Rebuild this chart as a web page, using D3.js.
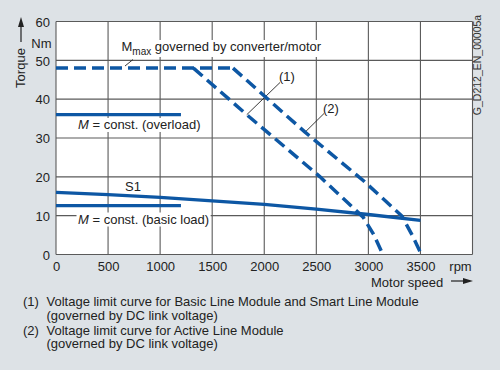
<!DOCTYPE html>
<html><head><meta charset="utf-8">
<script src="https://cdn.jsdelivr.net/npm/d3@7"></script>
<style>
html,body{margin:0;padding:0;background:#dde2e6;}
svg{display:block;font-family:"Liberation Sans",Arial,sans-serif;}
</style></head>
<body>
<svg id="c" width="500" height="370"></svg>
<script>
// ---- data ----
const xTicks = [0, 500, 1000, 1500, 2000, 2500, 3000, 3500];
const xGrid = [0, 500, 1000, 1500, 2000, 2500, 3000, 3500, 4000];
const yTicks = [0, 10, 20, 30, 40, 50, 60];

const mmaxSpeed = [0, 1700];
const mmaxTorque = [48, 48];

const curve1Speed = [1320, 1832, 2536, 2950, 3050, 3140];
const curve1Torque = [48, 36, 20.0, 9.6, 5.2, 0];

const curve2Speed = [1700, 2392, 2953, 3322, 3420, 3510];
const curve2Torque = [48, 31.5, 19.0, 9.9, 5.0, 0];

const s1Speed = [0, 500, 1000, 1500, 2000, 2500, 3000, 3500];
const s1Torque = [16.0, 15.4, 14.7, 13.8, 12.9, 11.7, 10.3, 8.8];

const overloadSpeed = [0, 1200];
const overloadTorque = [36, 36];

const basicSpeed = [0, 1200];
const basicTorque = [12.6, 12.6];

const footnotes = [
  ["(1)", "Voltage limit curve for Basic Line Module and Smart Line Module"],
  ["", "(governed by DC link voltage)"],
  ["(2)", "Voltage limit curve for Active Line Module"],
  ["", "(governed by DC link voltage)"]
];

// ---- drawing ----
const svg = d3.select("#c");
const blue = "#0d57a4";
const gridCol = "#5a5a5a";
const x = d3.scaleLinear().domain([0, 4000]).range([56, 472.5]);
const y = d3.scaleLinear().domain([0, 60]).range([254.5, 21.5]);

svg.append("rect").attr("x", x(0)).attr("y", y(60))
  .attr("width", x(4000) - x(0)).attr("height", y(0) - y(60)).attr("fill", "#fff");

const grid = svg.append("g");
grid.selectAll("line.v").data(xGrid).join("line")
  .attr("x1", d => x(d)).attr("x2", d => x(d))
  .attr("y1", y(0)).attr("y2", y(60))
  .attr("stroke", gridCol).attr("stroke-width", 1.1);
grid.selectAll("line.h").data(yTicks).join("line")
  .attr("x1", x(0)).attr("x2", x(4000))
  .attr("y1", d => y(d)).attr("y2", d => y(d))
  .attr("stroke", gridCol).attr("stroke-width", 1.1);

// axes tick labels via d3 axes
const xAxis = d3.axisBottom(x).tickValues(xTicks).tickFormat(d3.format("d")).tickSize(0).tickPadding(0);
const gx = svg.append("g").attr("transform", `translate(0,${y(0)})`).call(xAxis);
gx.select(".domain").remove();
gx.selectAll("text").attr("dy", null).attr("y", 16.5)
  .attr("font-size", 13).attr("font-family", "Liberation Sans, Arial, sans-serif").attr("fill", "#222");

const yAxis = d3.axisLeft(y).tickValues(yTicks).tickFormat(d3.format("d")).tickSize(0).tickPadding(0);
const gy = svg.append("g").attr("transform", `translate(${x(0) - 6},0)`).call(yAxis);
gy.select(".domain").remove();
gy.selectAll("text").attr("x", 0).attr("dy", "0.36em")
  .attr("font-size", 13).attr("font-family", "Liberation Sans, Arial, sans-serif").attr("fill", "#222");

const txt = (xx, yy, s, opts = {}) => svg.append("text").attr("x", xx).attr("y", yy)
  .attr("font-size", opts.size || 13).attr("fill", "#222")
  .attr("text-anchor", opts.anchor || "start").text(s);

txt(51.5, 48, "Nm", {anchor: "end"});
txt(x(4000) - 12, 271, "rpm", {anchor: "middle"});
txt(371, 287, "Motor speed");
// motor speed arrow
const arrow = (x1, y1, x2, y2) => {
  svg.append("line").attr("x1", x1).attr("y1", y1).attr("x2", x2).attr("y2", y2)
    .attr("stroke", "#222").attr("stroke-width", 1.2);
};
arrow(451, 281, 466, 281);
svg.append("path").attr("d", "M473,281 L463,278 L463,284 Z").attr("fill", "#222");
// torque
svg.append("text").attr("transform", "translate(24.5,68) rotate(-90)")
  .attr("text-anchor", "middle").attr("font-size", 13).attr("fill", "#222").text("Torque");
arrow(21, 42, 21, 25);
svg.append("path").attr("d", "M21,17 L18,27 L24,27 Z").attr("fill", "#222");

// code id right
svg.append("text").attr("transform", "translate(481,65) rotate(-90)")
  .attr("text-anchor", "middle").attr("font-size", 10.5).attr("fill", "#333").text("G_D212_EN_00005a");

// labels with white boxes
const boxLabel = (xx, yy, build) => {
  const g = svg.append("g");
  const bg = g.append("rect").attr("fill", "#fff");
  const t = g.append("text").attr("x", xx).attr("y", yy).attr("font-size", 13).attr("fill", "#222");
  build(t);
  const b = t.node().getBBox();
  bg.attr("x", b.x - 1.5).attr("y", b.y + 1).attr("width", b.width + 3).attr("height", b.height - 1);
  return g;
};
boxLabel(121.5, 51, t => {
  t.append("tspan").text("M");
  t.append("tspan").attr("font-size", 10).attr("dy", 4).text("max");
  t.append("tspan").attr("dy", -4).text(" governed by converter/motor");
});
boxLabel(78, 129, t => {
  t.append("tspan").attr("font-style", "italic").text("M");
  t.append("tspan").text(" = const. (overload)");
});
boxLabel(125, 191, t => { t.append("tspan").text("S1"); });
boxLabel(78, 223.5, t => {
  t.append("tspan").attr("font-style", "italic").text("M");
  t.append("tspan").text(" = const. (basic load)");
});
boxLabel(279, 81, t => { t.append("tspan").text("(1)"); });
boxLabel(323, 113, t => { t.append("tspan").text("(2)"); });

// leader lines
const leader = (x1, y1, x2, y2) => svg.append("line")
  .attr("x1", x1).attr("y1", y1).attr("x2", x2).attr("y2", y2)
  .attr("stroke", "#222").attr("stroke-width", 0.9);
leader(125, 66, 133, 59.5);
leader(280, 82.5, x(1832), y(36));
leader(324, 113.5, x(2392), y(31.5));

// curves
const line = d3.line().x(d => x(d[0])).y(d => y(d[1]));
const zip = (a, b) => a.map((v, i) => [v, b[i]]);
const solid = (sp, tq) => svg.append("path").attr("d", line(zip(sp, tq)))
  .attr("fill", "none").attr("stroke", blue).attr("stroke-width", 3.3);
const dashed = (sp, tq) => svg.append("path").attr("d", line(zip(sp, tq)))
  .attr("fill", "none").attr("stroke", blue).attr("stroke-width", 3.5)
  .attr("stroke-dasharray", "12,6");

solid(overloadSpeed, overloadTorque);
solid(basicSpeed, basicTorque);
solid(s1Speed, s1Torque);
dashed(mmaxSpeed, mmaxTorque);
dashed(curve1Speed, curve1Torque);
dashed(curve2Speed, curve2Torque);

// footnotes
const fy = [306, 320, 334.5, 348];
footnotes.forEach((f, i) => {
  if (f[0]) txt(23, fy[i], f[0], {size: 13});
  txt(46.5, fy[i], f[1], {size: 13});
});
</script>
</body></html>
